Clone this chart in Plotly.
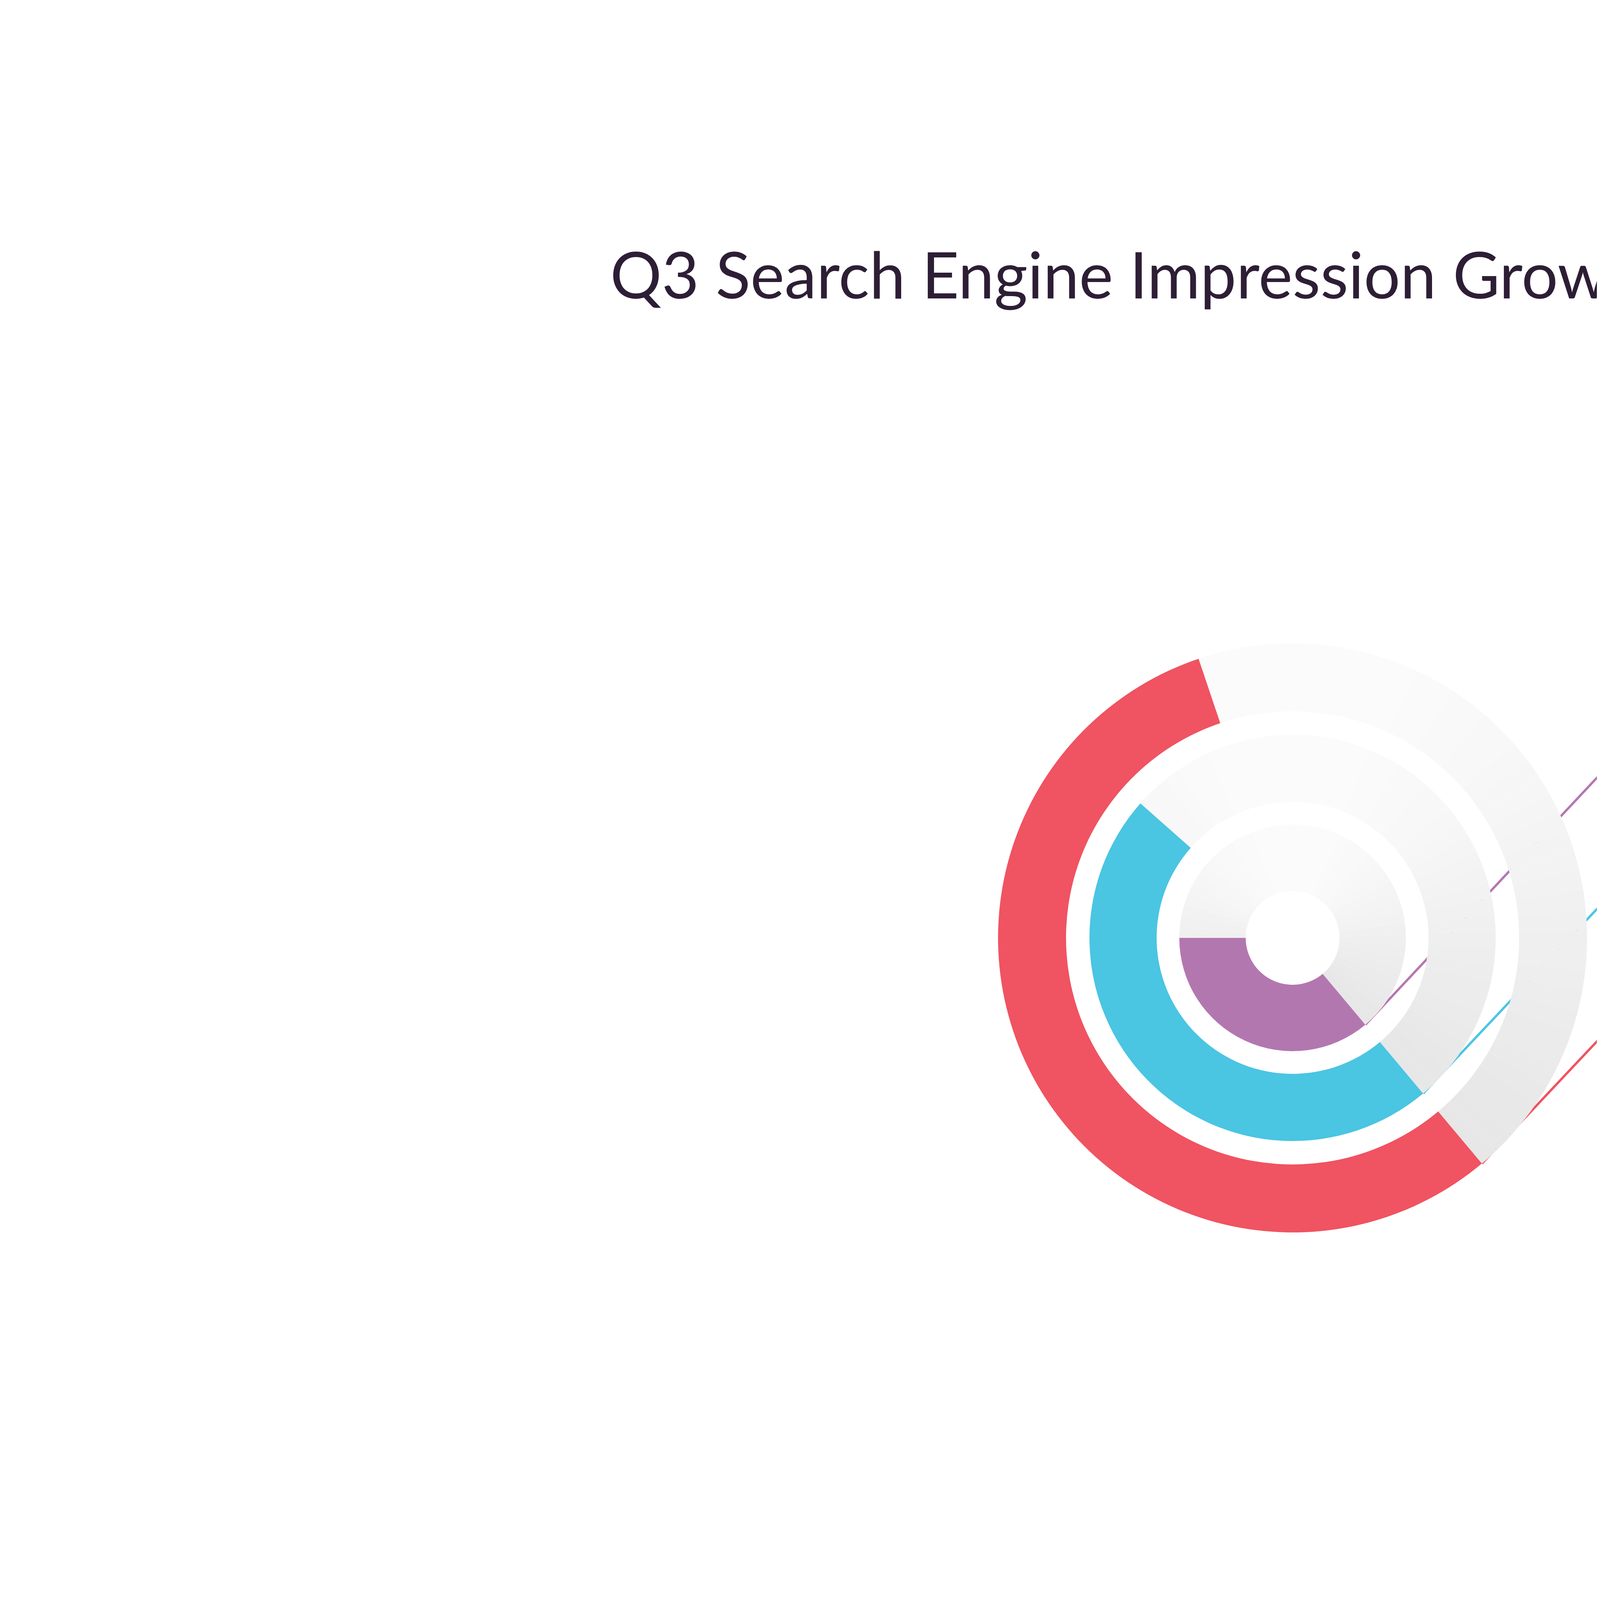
import plotly.graph_objects as go

W, H = 8000, 4501

# data
categories = ["Wood", "Vinyl", "Tile"]
growth_pct = [18.2, 35, 35.1]
arc_deg = [130, 171.5, 201.4]          # sweep of each coloured arc
colors = ["#b377b0", "#4ac5e2", "#f05361"]
radii_in = [120, 348, 580]
radii_out = [290, 520, 754]
label_y = [1549, 1887, 2226]

cx, cy = 3301, 2393
end_angle = 140      # compass degrees where every arc ends (lower right)
font = "Lato"

fig = go.Figure()


def gray(t):
    # t 0 -> light (top), 1 -> darker (bottom)
    v = int(252 - 24 * t)
    return f"rgb({v},{v},{v})"


import math
for cat, arc, col, ri, ro in zip(categories, arc_deg, colors, radii_in, radii_out):
    n = 40
    rest = 360 - arc
    vals = [arc] + [rest / n] * n
    cols = [col]
    for i in range(n):
        a = end_angle + arc + rest * (i + 0.5) / n   # compass angle, clockwise
        y = math.cos(math.radians(a))                # 1 top, -1 bottom
        cols.append(gray((1 - y) / 2))
    fig.add_trace(go.Pie(
        values=vals, sort=False, direction="clockwise", rotation=end_angle,
        hole=ri / ro, marker=dict(colors=cols, line=dict(width=0)),
        textinfo="none", hoverinfo="skip", showlegend=False, name=cat,
        domain=dict(x=[(cx - ro) / W, (cx + ro) / W],
                    y=[1 - (cy + ro) / H, 1 - (cy - ro) / H]),
    ))

# leader lines, markers and labels
mx = 4487
for cat, pct, arc, col, ro, ly in zip(categories, growth_pct, arc_deg, colors, radii_out, label_y):
    a = math.radians(end_angle)
    sx, sy = cx + ro * math.sin(a), cy - ro * math.cos(a)
    fig.add_trace(go.Scatter(x=[sx, mx], y=[sy, ly], mode="lines",
                             line=dict(color=col, width=6), hoverinfo="skip", showlegend=False))
    fig.add_trace(go.Scatter(x=[mx], y=[ly], mode="markers",
                             marker=dict(size=70, color="white", line=dict(color=col, width=24)),
                             hoverinfo="skip", showlegend=False))
    fig.add_annotation(x=mx + 180, y=ly, text=f"{pct}% {cat}", xanchor="left", yanchor="middle",
                       showarrow=False, font=dict(family=font, size=190, color=col, weight=600))

fig.add_annotation(x=W / 2, y=692, text="Q3 Search Engine Impression Growth by Floor Type (2017 vs. 2018)",
                   showarrow=False, xanchor="center", yanchor="middle",
                   font=dict(family=font, size=165, color="#2d1e35"))
fig.add_annotation(x=5145, y=3446, text="Source: WarmlyYours Google Analytics Data",
                   showarrow=False, xanchor="center", yanchor="middle",
                   font=dict(family=font, size=92, color="#2d1e35"))

fig.update_layout(
    width=W, height=H, margin=dict(l=0, r=0, t=0, b=0),
    paper_bgcolor="white", plot_bgcolor="rgba(0,0,0,0)",
    xaxis=dict(range=[0, W], visible=False, fixedrange=True),
    yaxis=dict(range=[H, 0], visible=False, fixedrange=True),
)

fig.write_html("out.html")
